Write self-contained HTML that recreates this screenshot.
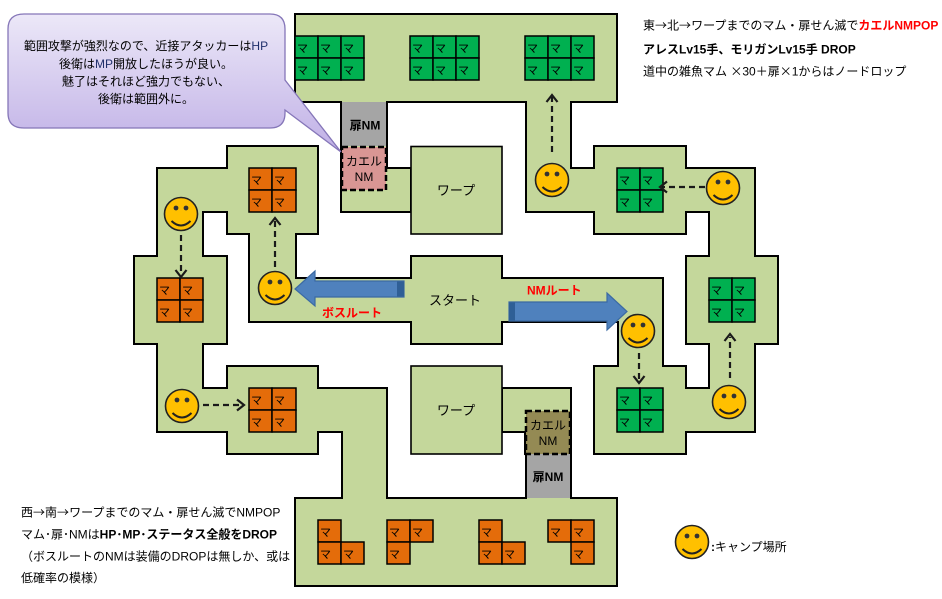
<!DOCTYPE html>
<html><head><meta charset="utf-8">
<style>
html,body{margin:0;padding:0;background:#fff;}
svg{display:block;font-family:"Liberation Sans","Noto Sans CJK JP",sans-serif;}
.m{font-size:11px;fill:#000;}
.t{font-size:12px;fill:#000;}
.b{font-weight:bold;}
.j{font-family:"Noto Sans CJK JP",sans-serif;}
</style></head><body>
<svg width="942" height="599" viewBox="0 0 942 599" xmlns="http://www.w3.org/2000/svg">
<defs>
<linearGradient id="cg" x1="0" y1="0" x2="0" y2="1">
<stop offset="0" stop-color="#ece8f8"/>
<stop offset="1" stop-color="#c0b0e6"/>
</linearGradient>
</defs>
<rect width="942" height="599" fill="#fff"/>

<!-- black underlay -->
<g fill="#000">
<rect x="294" y="13" width="324" height="90"/>
<rect x="340" y="97" width="48" height="54"/>
<rect x="340" y="145" width="48" height="68"/>
<rect x="340" y="167" width="72" height="46"/>
<rect x="525" y="97" width="47" height="116"/>
<rect x="566" y="167" width="33" height="46"/>
<rect x="593" y="145" width="94" height="90"/>
<rect x="681" y="167" width="75" height="46"/>
<rect x="708" y="167" width="48" height="94"/>
<rect x="685" y="255" width="94" height="90"/>
<rect x="708" y="339" width="48" height="94"/>
<rect x="681" y="387" width="33" height="46"/>
<rect x="593" y="365" width="94" height="90"/>
<rect x="617" y="277" width="47" height="94"/>
<rect x="497" y="277" width="167" height="46"/>
<rect x="410" y="255" width="93" height="90"/>
<rect x="248" y="277" width="168" height="46"/>
<rect x="248" y="229" width="49" height="94"/>
<rect x="226" y="145" width="93" height="90"/>
<rect x="156" y="167" width="76" height="46"/>
<rect x="156" y="167" width="48" height="94"/>
<rect x="133" y="255" width="95" height="90"/>
<rect x="156" y="339" width="48" height="94"/>
<rect x="156" y="387" width="76" height="46"/>
<rect x="226" y="365" width="93" height="90"/>
<rect x="313" y="387" width="75" height="46"/>
<rect x="341" y="387" width="47" height="116"/>
<rect x="294" y="497" width="324" height="90"/>
<rect x="525" y="449" width="47" height="54"/>
<rect x="501" y="387" width="71" height="46"/>
<rect x="524" y="409" width="48" height="46"/>
</g>
<!-- green fill -->
<g fill="#c4d79b">
<rect x="296" y="15" width="320" height="86"/>
<rect x="342" y="99" width="44" height="50"/>
<rect x="342" y="147" width="44" height="64"/>
<rect x="342" y="169" width="68" height="42"/>
<rect x="527" y="99" width="43" height="112"/>
<rect x="568" y="169" width="29" height="42"/>
<rect x="595" y="147" width="90" height="86"/>
<rect x="683" y="169" width="71" height="42"/>
<rect x="710" y="169" width="44" height="90"/>
<rect x="687" y="257" width="90" height="86"/>
<rect x="710" y="341" width="44" height="90"/>
<rect x="683" y="389" width="29" height="42"/>
<rect x="595" y="367" width="90" height="86"/>
<rect x="619" y="279" width="43" height="90"/>
<rect x="499" y="279" width="163" height="42"/>
<rect x="412" y="257" width="89" height="86"/>
<rect x="250" y="279" width="164" height="42"/>
<rect x="250" y="231" width="45" height="90"/>
<rect x="228" y="147" width="89" height="86"/>
<rect x="158" y="169" width="72" height="42"/>
<rect x="158" y="169" width="44" height="90"/>
<rect x="135" y="257" width="91" height="86"/>
<rect x="158" y="341" width="44" height="90"/>
<rect x="158" y="389" width="72" height="42"/>
<rect x="228" y="367" width="89" height="86"/>
<rect x="315" y="389" width="71" height="42"/>
<rect x="343" y="389" width="43" height="112"/>
<rect x="296" y="499" width="320" height="86"/>
<rect x="527" y="451" width="43" height="50"/>
<rect x="503" y="389" width="67" height="42"/>
<rect x="526" y="411" width="44" height="42"/>
</g>

<!-- doors -->
<rect x="342" y="102" width="44" height="44" fill="#a5a5a5"/>
<rect x="527" y="454" width="43" height="44" fill="#a5a5a5"/>
<text x="365" y="129.5" text-anchor="middle" class="t b">扉NM</text>
<text x="548" y="481" text-anchor="middle" class="t b">扉NM</text>

<!-- kaeru NM boxes -->
<rect x="342" y="147" width="44" height="43" fill="#d99694" stroke="#000" stroke-width="2.5" stroke-dasharray="6,3"/>
<text x="364" y="165.5" text-anchor="middle" class="t">カエル</text>
<text x="364" y="181" text-anchor="middle" class="t">NM</text>
<rect x="526" y="411" width="44" height="43" fill="#948a54" stroke="#000" stroke-width="2.5" stroke-dasharray="6,3"/>
<text x="548" y="429.5" text-anchor="middle" class="t">カエル</text>
<text x="548" y="445" text-anchor="middle" class="t">NM</text>

<!-- warp rooms -->
<rect x="411" y="146.5" width="91" height="87.5" fill="#c4d79b" stroke="#000" stroke-width="1.6"/>
<text x="456" y="195" text-anchor="middle" class="t" style="font-size:13px">ワープ</text>
<rect x="411" y="366" width="91" height="88" fill="#c4d79b" stroke="#000" stroke-width="1.6"/>
<text x="456" y="415" text-anchor="middle" class="t" style="font-size:13px">ワープ</text>

<text x="455" y="305" text-anchor="middle" class="t" style="font-size:13px">スタート</text>

<!-- mama cells: green -->
<g fill="#00b050" stroke="#000" stroke-width="1.5">
<rect x="295" y="36" width="23" height="22"/><rect x="318" y="36" width="23" height="22"/><rect x="341" y="36" width="23" height="22"/>
<rect x="295" y="58" width="23" height="22"/><rect x="318" y="58" width="23" height="22"/><rect x="341" y="58" width="23" height="22"/>
<rect x="410" y="36" width="23" height="22"/><rect x="433" y="36" width="23" height="22"/><rect x="456" y="36" width="23" height="22"/>
<rect x="410" y="58" width="23" height="22"/><rect x="433" y="58" width="23" height="22"/><rect x="456" y="58" width="23" height="22"/>
<rect x="525" y="36" width="23" height="22"/><rect x="548" y="36" width="23" height="22"/><rect x="571" y="36" width="23" height="22"/>
<rect x="525" y="58" width="23" height="22"/><rect x="548" y="58" width="23" height="22"/><rect x="571" y="58" width="23" height="22"/>
<rect x="617" y="168" width="23" height="22"/><rect x="640" y="168" width="23" height="22"/>
<rect x="617" y="190" width="23" height="22"/><rect x="640" y="190" width="23" height="22"/>
<rect x="709" y="278" width="23" height="22"/><rect x="732" y="278" width="23" height="22"/>
<rect x="709" y="300" width="23" height="22"/><rect x="732" y="300" width="23" height="22"/>
<rect x="617" y="388" width="23" height="22"/><rect x="640" y="388" width="23" height="22"/>
<rect x="617" y="410" width="23" height="22"/><rect x="640" y="410" width="23" height="22"/>
</g>
<!-- mama cells: orange -->
<g fill="#e46c0a" stroke="#000" stroke-width="1.5">
<rect x="249" y="168" width="23" height="22"/><rect x="272" y="168" width="24" height="22"/>
<rect x="249" y="190" width="23" height="22"/><rect x="272" y="190" width="24" height="22"/>
<rect x="157" y="278" width="23" height="22"/><rect x="180" y="278" width="23" height="22"/>
<rect x="157" y="300" width="23" height="22"/><rect x="180" y="300" width="23" height="22"/>
<rect x="249" y="388" width="23" height="22"/><rect x="272" y="388" width="24" height="22"/>
<rect x="249" y="410" width="23" height="22"/><rect x="272" y="410" width="24" height="22"/>
<rect x="318" y="520" width="23" height="22"/><rect x="318" y="542" width="23" height="22"/><rect x="341" y="542" width="23" height="22"/>
<rect x="387" y="520" width="23" height="22"/><rect x="410" y="520" width="23" height="22"/><rect x="387" y="542" width="23" height="22"/>
<rect x="479" y="520" width="23" height="22"/><rect x="479" y="542" width="23" height="22"/><rect x="502" y="542" width="23" height="22"/>
<rect x="548" y="520" width="23" height="22"/><rect x="571" y="520" width="23" height="22"/><rect x="571" y="542" width="23" height="22"/>
</g>
<!-- mama labels -->
<g class="m">
<text x="297" y="52">マ</text><text x="320" y="52">マ</text><text x="343" y="52">マ</text>
<text x="297" y="74">マ</text><text x="320" y="74">マ</text><text x="343" y="74">マ</text>
<text x="412" y="52">マ</text><text x="435" y="52">マ</text><text x="458" y="52">マ</text>
<text x="412" y="74">マ</text><text x="435" y="74">マ</text><text x="458" y="74">マ</text>
<text x="527" y="52">マ</text><text x="550" y="52">マ</text><text x="573" y="52">マ</text>
<text x="527" y="74">マ</text><text x="550" y="74">マ</text><text x="573" y="74">マ</text>
<text x="619" y="184">マ</text><text x="642" y="184">マ</text>
<text x="619" y="206">マ</text><text x="642" y="206">マ</text>
<text x="711" y="294">マ</text><text x="734" y="294">マ</text>
<text x="711" y="316">マ</text><text x="734" y="316">マ</text>
<text x="619" y="404">マ</text><text x="642" y="404">マ</text>
<text x="619" y="426">マ</text><text x="642" y="426">マ</text>
<text x="251" y="184">マ</text><text x="274" y="184">マ</text>
<text x="251" y="206">マ</text><text x="274" y="206">マ</text>
<text x="159" y="294">マ</text><text x="182" y="294">マ</text>
<text x="159" y="316">マ</text><text x="182" y="316">マ</text>
<text x="251" y="404">マ</text><text x="274" y="404">マ</text>
<text x="251" y="426">マ</text><text x="274" y="426">マ</text>
<text x="320" y="536">マ</text><text x="320" y="558">マ</text><text x="343" y="558">マ</text>
<text x="389" y="536">マ</text><text x="412" y="536">マ</text><text x="389" y="558">マ</text>
<text x="481" y="536">マ</text><text x="481" y="558">マ</text><text x="504" y="558">マ</text>
<text x="550" y="536">マ</text><text x="573" y="536">マ</text><text x="573" y="558">マ</text>
</g>

<!-- blue arrows -->
<polygon points="404,281 315,281 315,271 295,289 315,306 315,297 404,297" fill="#4f81bd" stroke="#3b6aa3" stroke-width="1.2"/>
<rect x="397" y="281.5" width="7" height="15" fill="#2f5f96"/>
<polygon points="509,302 607,302 607,293 627,311.5 607,330 607,321 509,321" fill="#4f81bd" stroke="#3b6aa3" stroke-width="1.2"/>
<rect x="509" y="302.5" width="6" height="18" fill="#2f5f96"/>
<text x="322" y="317" class="t b" style="fill:#ff0000">ボスルート</text>
<text x="527" y="294.5" class="t b" style="fill:#ff0000">NMルート</text>

<!-- dashed arrows -->
<g stroke="#1a1a1a" stroke-width="2.2" fill="none">
<line x1="552" y1="152" x2="552" y2="97" stroke-dasharray="6,4"/>
<polyline points="546.5,102 552,95 557.5,102"/>
<line x1="181" y1="235" x2="181" y2="274" stroke-dasharray="6,4"/>
<polyline points="175.5,270 181,277 186.5,270"/>
<line x1="275" y1="267" x2="275" y2="221" stroke-dasharray="6,4"/>
<polyline points="269.5,225 275,218 280.5,225"/>
<line x1="203" y1="405" x2="242" y2="405" stroke-dasharray="6,4"/>
<polyline points="237,399.5 244,405 237,410.5"/>
<line x1="705" y1="187" x2="663" y2="187" stroke-dasharray="6,4"/>
<polyline points="667,181.5 660,187 667,192.5"/>
<line x1="639" y1="353" x2="639" y2="380" stroke-dasharray="6,4"/>
<polyline points="633.5,376 639,383 644.5,376"/>
<line x1="730" y1="378" x2="730" y2="337" stroke-dasharray="6,4"/>
<polyline points="724.5,341 730,334 735.5,341"/>
</g>

<!-- smileys -->
<g>
<circle cx="552" cy="180" r="16.5" fill="#ffc000" stroke="#222" stroke-width="1.6"/>
<circle cx="547" cy="174" r="2.4" fill="#333"/><circle cx="557" cy="174" r="2.4" fill="#333"/>
<path d="M542.5 187 Q552 196 561.5 187" stroke="#222" stroke-width="2" fill="none"/>
</g>
<g>
<circle cx="181" cy="214" r="16.5" fill="#ffc000" stroke="#222" stroke-width="1.6"/>
<circle cx="176" cy="208" r="2.4" fill="#333"/><circle cx="186" cy="208" r="2.4" fill="#333"/>
<path d="M171.5 221 Q181 230 190.5 221" stroke="#222" stroke-width="2" fill="none"/>
</g>
<g>
<circle cx="275" cy="288" r="16.5" fill="#ffc000" stroke="#222" stroke-width="1.6"/>
<circle cx="270" cy="282" r="2.4" fill="#333"/><circle cx="280" cy="282" r="2.4" fill="#333"/>
<path d="M265.5 295 Q275 304 284.5 295" stroke="#222" stroke-width="2" fill="none"/>
</g>
<g>
<circle cx="182" cy="406" r="16.5" fill="#ffc000" stroke="#222" stroke-width="1.6"/>
<circle cx="177" cy="400" r="2.4" fill="#333"/><circle cx="187" cy="400" r="2.4" fill="#333"/>
<path d="M172.5 413 Q182 422 191.5 413" stroke="#222" stroke-width="2" fill="none"/>
</g>
<g>
<circle cx="723" cy="188" r="16.5" fill="#ffc000" stroke="#222" stroke-width="1.6"/>
<circle cx="718" cy="182" r="2.4" fill="#333"/><circle cx="728" cy="182" r="2.4" fill="#333"/>
<path d="M713.5 195 Q723 204 732.5 195" stroke="#222" stroke-width="2" fill="none"/>
</g>
<g>
<circle cx="638" cy="331" r="16.5" fill="#ffc000" stroke="#222" stroke-width="1.6"/>
<circle cx="633" cy="325" r="2.4" fill="#333"/><circle cx="643" cy="325" r="2.4" fill="#333"/>
<path d="M628.5 338 Q638 347 647.5 338" stroke="#222" stroke-width="2" fill="none"/>
</g>
<g>
<circle cx="729" cy="402" r="16.5" fill="#ffc000" stroke="#222" stroke-width="1.6"/>
<circle cx="724" cy="396" r="2.4" fill="#333"/><circle cx="734" cy="396" r="2.4" fill="#333"/>
<path d="M719.5 409 Q729 418 738.5 409" stroke="#222" stroke-width="2" fill="none"/>
</g>
<g>
<circle cx="692" cy="542" r="16.5" fill="#ffc000" stroke="#222" stroke-width="1.6"/>
<circle cx="687" cy="536" r="2.4" fill="#333"/><circle cx="697" cy="536" r="2.4" fill="#333"/>
<path d="M682.5 549 Q692 558 701.5 549" stroke="#222" stroke-width="2" fill="none"/>
</g>
<text x="711" y="551" class="t"><tspan class="b">:</tspan>キャンプ場所</text>

<!-- top-right text -->
<text x="643" y="29.5" class="t">東<tspan class="j">→</tspan>北<tspan class="j">→</tspan>ワープまでのマム・扉せん滅で<tspan class="b" style="fill:#ff0000">カエルNMPOP</tspan></text>
<text x="643" y="53.5" class="t b">アレスLv15手、モリガンLv15手 DROP</text>
<text x="643" y="75.5" class="t">道中の雑魚マム <tspan class="j">×</tspan>30＋扉<tspan class="j">×</tspan>1からはノードロップ</text>

<!-- bottom-left text -->
<text x="21" y="516.5" class="t">西<tspan class="j">→</tspan>南<tspan class="j">→</tspan>ワープまでのマム・扉せん滅でNMPOP</text>
<text x="21" y="538.5" class="t">マム･扉･NMは<tspan class="b">HP･MP･ステータス全般をDROP</tspan></text>
<text x="21" y="560.5" class="t">（ボスルートのNMは装備のDROPは無しか、或は</text>
<text x="21" y="582" class="t">低確率の模様）</text>

<!-- callout -->
<path d="M24 14 H270 Q285 14 285 29 V80 L341 152 L285 110 V113 Q285 128 270 128 H24 Q8 128 8 113 V29 Q8 14 24 14 Z" fill="url(#cg)" stroke="#8576b8" stroke-width="1.3"/>
<text x="146" y="50" text-anchor="middle" class="t">範囲攻撃が強烈なので、近接アタッカーは<tspan style="fill:#1f2f6b">HP</tspan></text>
<text x="146" y="68" text-anchor="middle" class="t">後衛は<tspan style="fill:#1f2f6b">MP</tspan>開放したほうが良い。</text>
<text x="146" y="85.5" text-anchor="middle" class="t">魅了はそれほど強力でもない、</text>
<text x="146" y="103" text-anchor="middle" class="t">後衛は範囲外に。</text>
</svg>
</body></html>
